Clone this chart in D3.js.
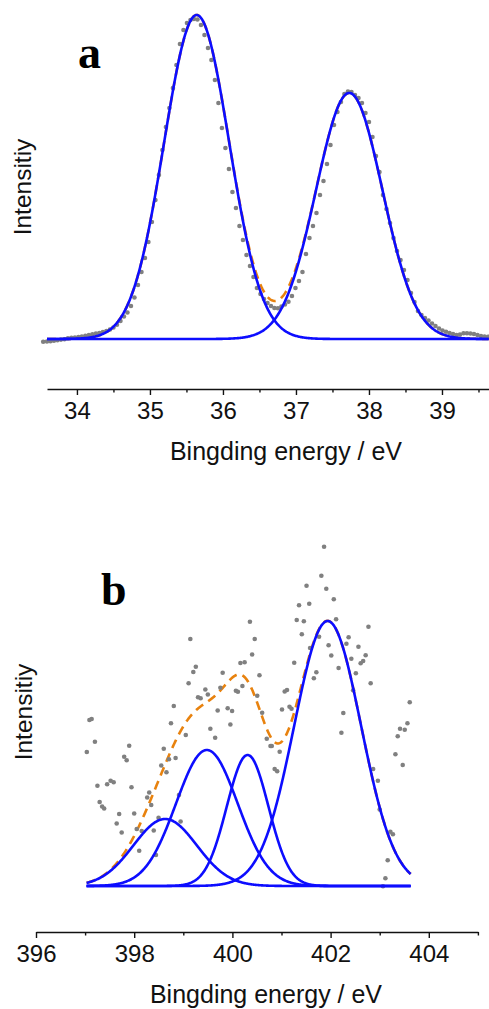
<!DOCTYPE html>
<html>
<head>
<meta charset="utf-8">
<script src="https://cdn.jsdelivr.net/npm/d3@7"></script>
<style>
  body { margin: 0; background: #fff; }
  svg { display: block; }
</style>
</head>
<body>
<div id="chart"></div>
<script>
// ---- panel a : measured points ----
const aEnergy = [33.538, 33.589, 33.637, 33.685, 33.733, 33.781, 33.829, 33.877, 33.925, 33.973,
  34.021, 34.068, 34.116, 34.164, 34.212, 34.26, 34.308, 34.356, 34.404, 34.452,
  34.5, 34.548, 34.596, 34.644, 34.692, 34.74, 34.788, 34.836, 34.884, 34.932,
  34.979, 35.027, 35.075, 35.123, 35.171, 35.219, 35.267, 35.315, 35.363, 35.411,
  35.459, 35.507, 35.555, 35.603, 35.651, 35.699, 35.747, 35.795, 35.842, 35.89,
  35.938, 35.986, 36.034, 36.082, 36.13, 36.178, 36.226, 36.274, 36.322, 36.37,
  36.418, 36.466, 36.514, 36.562, 36.61, 36.658, 36.705, 36.753, 36.801, 36.849,
  36.897, 36.945, 36.993, 37.041, 37.089, 37.137, 37.185, 37.233, 37.281, 37.329,
  37.377, 37.425, 37.473, 37.521, 37.568, 37.616, 37.664, 37.712, 37.76, 37.808,
  37.856, 37.904, 37.952, 38.0, 38.048, 38.096, 38.144, 38.192, 38.24, 38.288,
  38.336, 38.384, 38.432, 38.479, 38.527, 38.575, 38.623, 38.671, 38.719, 38.767,
  38.815, 38.863, 38.911, 38.959, 39.007, 39.055, 39.103, 39.151, 39.199, 39.247,
  39.295, 39.342, 39.39, 39.438, 39.486, 39.534, 39.582, 39.63];
const aIntensity = [-2.7, -2.5, -2.3, -1.8, -1.2, -0.6, -0.2, 0.7, 1.2, 1.5,
  2, 2.5, 3.2, 4, 4.8, 5.5, 6, 7, 8, 9.5,
  11.5, 14.2, 18, 22.5, 26.5, 33, 41.5, 54, 67, 81,
  97, 117, 139, 164, 189, 212, 231, 251, 274, 295,
  309, 316, 319, 320, 319.5, 314, 304, 291, 279, 259,
  236, 211, 191, 170, 147, 131, 113, 99, 84, 73,
  62, 51, 45, 40, 36, 33, 31, 30.7, 32.5, 34.5,
  37.3, 43, 51, 58, 67, 85, 101, 113, 126, 144,
  158, 175, 194, 214, 227, 237, 245, 247.5, 247, 244,
  241, 236, 226, 217, 202, 183, 167, 144, 130, 116,
  101, 88, 79, 69, 59, 46, 37, 28, 24, 21,
  18.5, 15.5, 13, 10.5, 8.5, 7.3, 6, 5, 4, 4.5,
  5.7, 5.7, 5.5, 5, 4, 3, 2.5, 2.3];

// panel a : fitted components (centre eV, height, FWHM eV)
const aPeakCenter = [35.64, 37.73];
const aPeakHeight = [324, 246];
const aPeakFwhm = [1.05, 1.07];
const aFitRange = [33.59, 39.64];
const aTicks = [34, 35, 36, 37, 38, 39];
const aMinorTicks = [34.5, 35.5, 36.5, 37.5, 38.5, 39.5];

// ---- panel b : measured points ----
const bEnergy = [397.035, 397.088, 397.133, 397.2, 397.251, 397.296, 397.347, 397.388, 397.449, 397.52,
  397.582, 397.643, 397.694, 397.745, 397.796, 397.847, 397.898, 397.945, 398.0, 398.051,
  398.102, 398.153, 398.265, 398.306, 398.347, 398.398, 398.443, 398.496, 398.551, 398.602,
  398.657, 398.708, 398.749, 398.806, 398.843, 398.912, 398.945, 399.051, 399.108, 399.143,
  399.204, 399.255, 399.3, 399.353, 399.449, 399.5, 399.551, 399.649, 399.7, 399.755,
  399.802, 399.904, 399.959, 399.994, 400.071, 400.112, 400.163, 400.204, 400.249, 400.357,
  400.402, 400.455, 400.506, 400.551, 400.606, 400.7, 400.776, 400.802, 400.861, 400.912,
  400.963, 401.01, 401.065, 401.112, 401.163, 401.204, 401.259, 401.31, 401.357, 401.414,
  401.455, 401.51, 401.565, 401.582, 401.659, 401.71, 401.765, 401.812, 401.867, 401.912,
  401.959, 402.014, 402.065, 402.112, 402.163, 402.22, 402.259, 402.322, 402.367, 402.422,
  402.459, 402.514, 402.567, 402.612, 402.663, 402.714, 402.771, 402.816, 402.867, 402.963,
  403.0, 403.067, 403.116, 403.163, 403.218, 403.269, 403.32, 403.367, 403.414, 403.469,
  403.51, 403.565, 403.612];
const bIntensity = [134, 166, 167, 144.3, 100.3, 84, 79.5, 77.5, 101.7, 105.3,
  103.7, 62.5, 72, 53.5, 129.3, 125.7, 140.2, 98.7, 72.5, 57,
  35.3, 55, 88.5, 93.5, 81, 55.5, 31, 68.2, 120.5, 137.3,
  113.8, 126.7, 162.7, 180, 128, 91, 64.5, 151, 202.7, 247,
  214, 219.3, 188.7, 187.8, 196.5, 191.5, 157.3, 148.3, 175.5, 198.3,
  213.3, 177.7, 161.5, 175, 195.2, 194.3, 223, 200, 223.7, 264.2,
  231.5, 247, 190.3, 210.8, 173.2, 147.3, 140, 140, 117, 114.8,
  134.3, 176.5, 194.5, 196, 179.3, 177.3, 223.2, 266, 280.7, 251.7,
  264.7, 300.2, 282.3, 238, 207.8, 213.7, 249.3, 310.3, 339.3, 297.3,
  240.7, 230.5, 286.7, 266.7, 218, 153.3, 173, 242.2, 248.8, 227.2,
  195.7, 212.8, 239.3, 222.7, 225, 230.7, 259.2, 202.7, 117, 105.3,
  76.5, -0.3, 7.7, 25.8, 54.3, 51.8, 131.7, 149.7, 157.2, 121,
  156.3, 162.8, 183.7];

// panel b : fitted components
const bPeakCenter = [398.63, 399.48, 400.31, 401.94];
const bPeakHeight = [67, 136, 131, 265];
const bPeakFwhm = [1.52, 1.48, 1.00, 1.60];
const bFitRange = [397.03, 403.63];
const bTicks = [396, 398, 400, 402, 404];
const bMinorTicks = [397, 399, 401, 403, 405];

const BLUE = "#0d0dff", ORANGE = "#e8820e", GREY = "#808080";
const FONT = "'Liberation Sans', Arial, sans-serif";

const W = 489, H = 1009;
const svg = d3.select("#chart").append("svg")
  .attr("width", W).attr("height", H)
  .attr("viewBox", `0 0 ${W} ${H}`);

function gauss(e, c, h, fwhm) {
  return h * Math.exp(-4 * Math.LN2 * (e - c) * (e - c) / (fwhm * fwhm));
}

function drawPanel(cfg) {
  const g = svg.append("g");
  const x = d3.scaleLinear().domain(cfg.xDomain).range(cfg.xRange);
  const y = d3.scaleLinear().domain([0, cfg.yMax]).range([cfg.baseY, cfg.baseY - cfg.yMax]);

  const grid = d3.range(cfg.fitRange[0], cfg.fitRange[1] + 0.001, 0.01);
  const line = d3.line().x(d => x(d[0])).y(d => y(d[1]));

  // envelope (sum of components) under the blue lines
  const sum = grid.map(e => [e, d3.sum(cfg.centers, (c, i) => gauss(e, c, cfg.heights[i], cfg.fwhm[i]))]);
  g.append("path").datum(sum)
    .attr("d", line)
    .attr("fill", "none")
    .attr("stroke", ORANGE)
    .attr("stroke-width", 2.6)
    .attr("stroke-dasharray", "9,6");

  // data points
  g.selectAll("circle.pt")
    .data(cfg.energy.map((e, i) => [e, cfg.intensity[i]]))
    .join("circle")
    .attr("class", "pt")
    .attr("cx", d => x(d[0]))
    .attr("cy", d => y(d[1]))
    .attr("r", 2.3)
    .attr("fill", GREY);

  // fitted components
  cfg.centers.forEach((c, i) => {
    g.append("path")
      .datum(grid.map(e => [e, gauss(e, c, cfg.heights[i], cfg.fwhm[i])]))
      .attr("d", line)
      .attr("fill", "none")
      .attr("stroke", BLUE)
      .attr("stroke-width", 2.6);
  });

  // x axis
  const minor = g.append("g").attr("transform", `translate(0,${cfg.axisY})`)
    .call(d3.axisBottom(x).tickValues(cfg.minorTicks).tickSize(3.5).tickSizeOuter(0).tickFormat(""));
  minor.select(".domain").remove();
  const major = g.append("g").attr("transform", `translate(0,${cfg.axisY})`)
    .call(d3.axisBottom(x).tickValues(cfg.ticks).tickSize(6).tickSizeOuter(0)
      .tickPadding(7).tickFormat(d3.format("d")));
  major.select(".domain").attr("stroke-width", 1.6).attr("stroke", "#111");
  g.selectAll(".tick line").attr("stroke", "#111").attr("stroke-width", 1.4);
  major.selectAll(".tick text")
    .attr("font-family", FONT)
    .attr("font-size", 24)
    .attr("fill", "#111");

  g.append("text")
    .attr("x", cfg.titleX).attr("y", cfg.titleY)
    .attr("text-anchor", "middle")
    .attr("font-family", FONT)
    .attr("font-size", 25)
    .attr("fill", "#111")
    .text("Bingding energy / eV");

  g.append("text")
    .attr("transform", `translate(${cfg.yLabelX},${cfg.yLabelY}) rotate(-90)`)
    .attr("text-anchor", "middle")
    .attr("font-family", FONT)
    .attr("font-size", 24.5)
    .attr("fill", "#111")
    .text("Intensitiy");

  g.append("text")
    .attr("x", cfg.tagX).attr("y", cfg.tagY)
    .attr("font-family", "'Liberation Serif', 'Times New Roman', serif")
    .attr("font-weight", "bold")
    .attr("font-size", 46)
    .attr("fill", "#000")
    .text(cfg.tag);
}

drawPanel({
  energy: aEnergy, intensity: aIntensity,
  centers: aPeakCenter, heights: aPeakHeight, fwhm: aPeakFwhm,
  fitRange: aFitRange, ticks: aTicks, minorTicks: aMinorTicks,
  xDomain: [33.59, 39.644], xRange: [47, 489],
  yMax: 324, baseY: 339, axisY: 389,
  titleX: 286, titleY: 460, yLabelX: 31, yLabelY: 187,
  tag: "a", tagX: 78, tagY: 68
});

drawPanel({
  energy: bEnergy, intensity: bIntensity,
  centers: bPeakCenter, heights: bPeakHeight, fwhm: bPeakFwhm,
  fitRange: bFitRange, ticks: bTicks, minorTicks: bMinorTicks,
  xDomain: [396, 405], xRange: [36, 477.9],
  yMax: 340, baseY: 886, axisY: 932,
  titleX: 266, titleY: 1003, yLabelX: 32, yLabelY: 712,
  tag: "b", tagX: 101, tagY: 605
});
</script>
</body>
</html>
